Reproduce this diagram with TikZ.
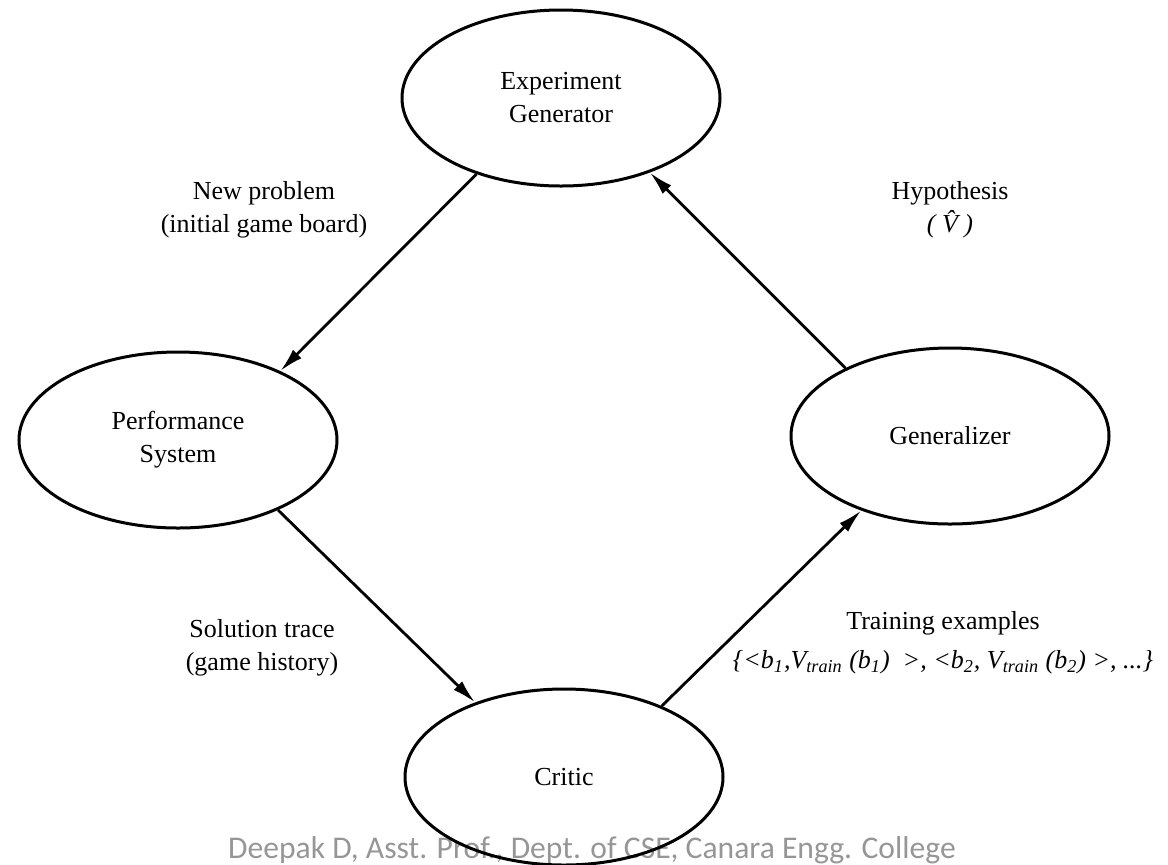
\documentclass[tikz,border=0pt]{standalone}
\usepackage{fontspec}
\setmainfont{Liberation Serif}
\newfontfamily\footerfont{Carlito}
\usetikzlibrary{shapes.geometric, arrows.meta}
\definecolor{footergray}{RGB}{150,150,150}

\begin{document}
\begin{tikzpicture}[x=0.5pt, y=-0.5pt, font={\fontsize{13}{16.5}\selectfont},
  module/.style={ellipse, draw, line width=1.5pt, minimum width=159pt, minimum height=88pt, inner sep=0pt, align=center},
  flow/.style={-{Latex[length=12pt, width=6pt]}, line width=1.4pt}]
  \useasboundingbox (0, 0) rectangle (1168, 864);

  \node[font={\footerfont\fontsize{15.8}{18}\selectfont}, text=footergray] (credit) at (592, 850) {Deepak D, Asst. Prof., Dept. of CSE, Canara Engg. College};

  \node[module] (expgen) at (561, 98) {Experiment\\Generator};
  \node[module] (perf) at (178, 440) {Performance\\System};
  \node[module] (critic) at (564, 777) {Critic};
  \node[module] (gen) at (950, 436) {Generalizer};

  \node[align=center] (newprob) at (264, 210) {New problem\\(initial game board)};
  \node[align=center] (trace) at (262, 648) {Solution trace\\(game history)};
  \node[align=center] (hypo) at (950, 210) {Hypothesis\\{\itshape (~\^{V}~)}};
  \node[align=center] (train) at (943, 643) {Training examples\\[3pt]
    {\itshape \{<b\textsubscript{1},V\textsubscript{train} (b\textsubscript{1})~~>, <b\textsubscript{2}, V\textsubscript{train} (b\textsubscript{2}) >, ...\}}};

  \draw[flow] (expgen.222) -- (perf.34);
  \draw[flow] (perf.-35) -- (critic.140);
  \draw[flow] (critic.36) -- (gen.-140);
  \draw[flow] (gen.147) -- (expgen.-40);
\end{tikzpicture}
\end{document}
